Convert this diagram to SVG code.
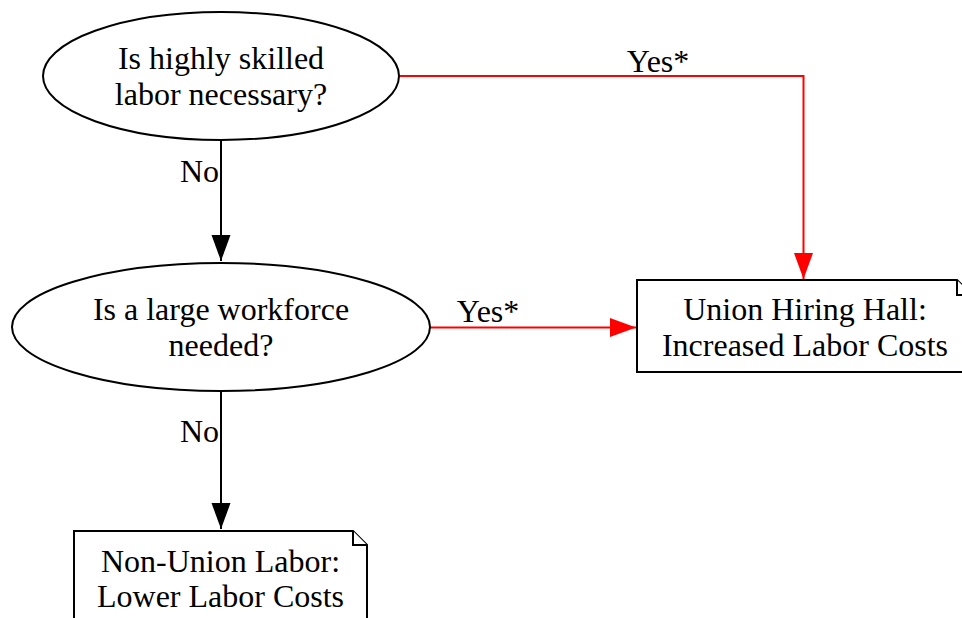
<svg xmlns="http://www.w3.org/2000/svg" width="962" height="618" viewBox="0 0 962 618" font-family="'Liberation Serif', 'Times New Roman', Times, 'DejaVu Serif', serif">
<style>
text{font-family:'Liberation Serif','Times New Roman',Times,'DejaVu Serif',serif;font-size:32px;fill:#000;text-anchor:middle}
.shape{fill:#fff;stroke:#000;stroke-width:2}
.edge{fill:none;stroke-width:2}
.red{stroke:#ff0000}
.blk{stroke:#000}
.lbl-end{text-anchor:end}
</style>
<defs>
<marker id="ahR" markerUnits="userSpaceOnUse" markerWidth="28" markerHeight="20" refX="26" refY="9.5" orient="auto" viewBox="0 0 28 20">
<path d="M0,0 L26,9.5 L0,19 Z" fill="#ff0000"/>
</marker>
<marker id="ahB" markerUnits="userSpaceOnUse" markerWidth="28" markerHeight="20" refX="26" refY="9.5" orient="auto" viewBox="0 0 28 20">
<path d="M0,0 L26,9.5 L0,19 Z" fill="#000"/>
</marker>
</defs>
<rect width="962" height="618" fill="#fff"/>
<g id="edges">
<path class="edge red" d="M399,76 H803.5 V279" marker-end="url(#ahR)"/>
<path class="edge red" d="M430,327.5 H636" marker-end="url(#ahR)"/>
<path class="edge blk" d="M221,140 V261" marker-end="url(#ahB)"/>
<path class="edge blk" d="M221,391 V529" marker-end="url(#ahB)"/>
<text x="658" y="72">Yes*</text>
<text x="488" y="322">Yes*</text>
<text class="lbl-end" x="219" y="182">No</text>
<text class="lbl-end" x="219" y="442">No</text>
</g>
<g id="q1">
<ellipse class="shape" cx="221" cy="76" rx="178" ry="64"/>
<text x="221" y="69">Is highly skilled</text>
<text x="221" y="105">labor necessary?</text>
</g>
<g id="q2">
<ellipse class="shape" cx="221" cy="327" rx="209" ry="64"/>
<text x="221" y="320">Is a large workforce</text>
<text x="221" y="356">needed?</text>
</g>
<g id="union">
<path class="shape" d="M637,280 H957 L972,295 V372 H637 Z"/>
<polyline class="shape" fill="none" points="957,280 957,295 972,295"/>
<text x="805" y="320">Union Hiring Hall:</text>
<text x="805" y="356">Increased Labor Costs</text>
</g>
<g id="nonunion">
<path class="shape" d="M74,531 H353 L367,545 V630 H74 Z"/>
<polyline class="shape" fill="none" points="353,531 353,545 367,545"/>
<text x="220.5" y="572">Non-Union Labor:</text>
<text x="220.5" y="607">Lower Labor Costs</text>
</g>
</svg>
